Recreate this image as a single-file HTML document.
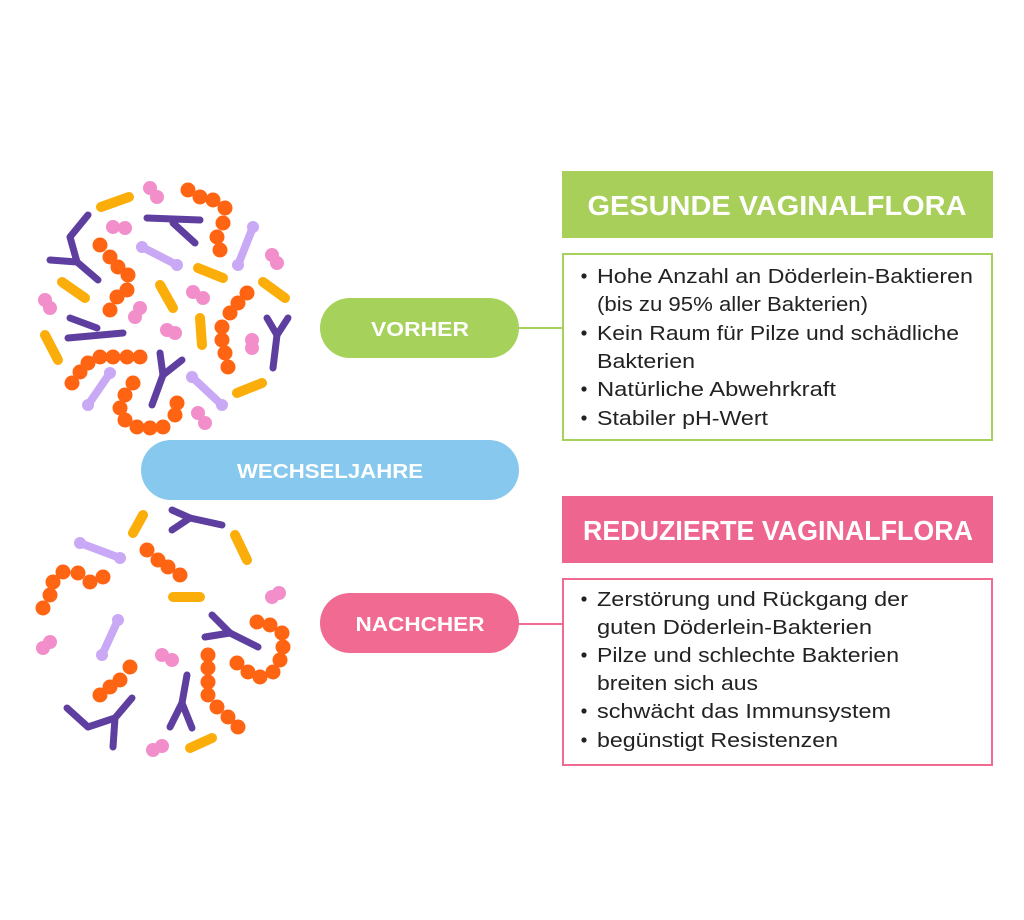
<!DOCTYPE html>
<html><head><meta charset="utf-8"><style>html,body{margin:0;padding:0;background:#fff}svg{display:block}</style></head>
<body>
<svg width="1024" height="920" viewBox="0 0 1024 920" xmlns="http://www.w3.org/2000/svg" font-family="Liberation Sans, sans-serif">
<rect width="1024" height="920" fill="#fff"/>
<line x1="515" y1="328" x2="563" y2="328" stroke="#A6D25C" stroke-width="2"/>
<line x1="515" y1="624" x2="563" y2="624" stroke="#F06A92" stroke-width="2"/>
<rect x="320" y="298" width="199" height="60" rx="30" fill="#A6D25C"/>
<text x="420" y="336" font-size="20" font-weight="bold" fill="#fff" text-anchor="middle" textLength="98" lengthAdjust="spacingAndGlyphs">VORHER</text>
<rect x="141" y="440" width="378" height="60" rx="30" fill="#87C8EE"/>
<text x="330" y="478" font-size="20" font-weight="bold" fill="#fff" text-anchor="middle" textLength="186" lengthAdjust="spacingAndGlyphs">WECHSELJAHRE</text>
<rect x="320" y="593" width="199" height="60" rx="30" fill="#F06A92"/>
<text x="420" y="631" font-size="20" font-weight="bold" fill="#fff" text-anchor="middle" textLength="129" lengthAdjust="spacingAndGlyphs">NACHCHER</text>
<rect x="562" y="171" width="431" height="67" fill="#A8CF5A"/>
<text x="777" y="215" font-size="28" font-weight="bold" fill="#fff" text-anchor="middle" textLength="379" lengthAdjust="spacingAndGlyphs">GESUNDE VAGINALFLORA</text>
<rect x="562" y="496" width="431" height="67" fill="#EE6690"/>
<text x="778" y="540" font-size="28" font-weight="bold" fill="#fff" text-anchor="middle" textLength="390" lengthAdjust="spacingAndGlyphs">REDUZIERTE VAGINALFLORA</text>
<rect x="563" y="254" width="429" height="186" fill="none" stroke="#A6D25C" stroke-width="2"/>
<rect x="563" y="579" width="429" height="186" fill="none" stroke="#F06A92" stroke-width="2"/>
<g font-size="20" fill="#222">
<text x="597" y="283" textLength="376" lengthAdjust="spacingAndGlyphs">Hohe Anzahl an Döderlein-Baktieren</text>
<text x="597" y="311" textLength="271" lengthAdjust="spacingAndGlyphs">(bis zu 95% aller Bakterien)</text>
<text x="597" y="340" textLength="362" lengthAdjust="spacingAndGlyphs">Kein Raum für Pilze und schädliche</text>
<text x="597" y="368" textLength="98" lengthAdjust="spacingAndGlyphs">Bakterien</text>
<text x="597" y="396" textLength="239" lengthAdjust="spacingAndGlyphs">Natürliche Abwehrkraft</text>
<text x="597" y="425" textLength="171" lengthAdjust="spacingAndGlyphs">Stabiler pH-Wert</text>
<text x="597" y="606" textLength="311" lengthAdjust="spacingAndGlyphs">Zerstörung und Rückgang der</text>
<text x="597" y="634" textLength="275" lengthAdjust="spacingAndGlyphs">guten Döderlein-Bakterien</text>
<text x="597" y="662" textLength="302" lengthAdjust="spacingAndGlyphs">Pilze und schlechte Bakterien</text>
<text x="597" y="690" textLength="161" lengthAdjust="spacingAndGlyphs">breiten sich aus</text>
<text x="597" y="718" textLength="294" lengthAdjust="spacingAndGlyphs">schwächt das Immunsystem</text>
<text x="597" y="747" textLength="241" lengthAdjust="spacingAndGlyphs">begünstigt Resistenzen</text>
</g>
<g fill="#222">
<circle cx="584" cy="276" r="2.6"/><circle cx="584" cy="333" r="2.6"/><circle cx="584" cy="389" r="2.6"/><circle cx="584" cy="418" r="2.6"/>
<circle cx="584" cy="599" r="2.6"/><circle cx="584" cy="655" r="2.6"/><circle cx="584" cy="711" r="2.6"/><circle cx="584" cy="740" r="2.6"/>
</g>
<g stroke="#FBAE0A" stroke-width="10" stroke-linecap="round">
<line x1="101" y1="207" x2="129" y2="197"/><line x1="62" y1="282" x2="85" y2="298"/><line x1="45" y1="335" x2="58" y2="360"/>
<line x1="160" y1="285" x2="173" y2="308"/><line x1="198" y1="268" x2="223" y2="278"/><line x1="200" y1="318" x2="202" y2="345"/>
<line x1="263" y1="282" x2="285" y2="298"/><line x1="237" y1="393" x2="262" y2="383"/>
<line x1="143" y1="515" x2="133" y2="533"/><line x1="235" y1="535" x2="247" y2="560"/><line x1="173" y1="597" x2="200" y2="597"/><line x1="190" y1="748" x2="212" y2="738"/>
</g>
<g stroke="#5E3FA0" stroke-width="7" stroke-linecap="round" stroke-linejoin="round" fill="none">
<polyline points="88,215 70,237 77,262"/><line x1="50" y1="260" x2="77" y2="262"/><line x1="77" y1="262" x2="98" y2="280"/>
<line x1="147" y1="218" x2="200" y2="220"/><line x1="173" y1="223" x2="195" y2="243"/>
<line x1="70" y1="318" x2="97" y2="328"/><line x1="68" y1="338" x2="123" y2="333"/>
<line x1="160" y1="353" x2="163" y2="375"/><line x1="182" y1="360" x2="163" y2="375"/><line x1="163" y1="375" x2="152" y2="405"/>
<line x1="267" y1="318" x2="277" y2="335"/><line x1="288" y1="318" x2="277" y2="335"/><line x1="277" y1="335" x2="273" y2="368"/>
<line x1="172" y1="510" x2="190" y2="518"/><line x1="172" y1="530" x2="190" y2="518"/><line x1="190" y1="518" x2="222" y2="525"/>
<line x1="212" y1="615" x2="230" y2="633"/><line x1="205" y1="637" x2="230" y2="633"/><line x1="230" y1="633" x2="258" y2="647"/>
<polyline points="67,708 88,727 115,718 132,698"/><line x1="115" y1="718" x2="113" y2="747"/>
<line x1="187" y1="675" x2="182" y2="703"/><line x1="182" y1="703" x2="170" y2="727"/><line x1="182" y1="703" x2="192" y2="728"/>
</g>
<g stroke="#C9A8F5" stroke-width="8" stroke-linecap="round">
<line x1="142" y1="247" x2="177" y2="265"/><line x1="253" y1="227" x2="238" y2="265"/><line x1="88" y1="405" x2="110" y2="373"/><line x1="192" y1="377" x2="222" y2="405"/>
<line x1="80" y1="543" x2="120" y2="558"/><line x1="118" y1="620" x2="102" y2="655"/>
</g>
<g fill="#C9A8F5">
<circle cx="142" cy="247" r="6"/><circle cx="177" cy="265" r="6"/><circle cx="253" cy="227" r="6"/><circle cx="238" cy="265" r="6"/>
<circle cx="88" cy="405" r="6"/><circle cx="110" cy="373" r="6"/><circle cx="192" cy="377" r="6"/><circle cx="222" cy="405" r="6"/>
<circle cx="80" cy="543" r="6"/><circle cx="120" cy="558" r="6"/><circle cx="118" cy="620" r="6"/><circle cx="102" cy="655" r="6"/>
</g>
<g fill="#F28FCB">
<circle cx="150" cy="188" r="7"/><circle cx="157" cy="197" r="7"/><circle cx="113" cy="227" r="7"/><circle cx="125" cy="228" r="7"/>
<circle cx="272" cy="255" r="7"/><circle cx="277" cy="263" r="7"/><circle cx="45" cy="300" r="7"/><circle cx="50" cy="308" r="7"/>
<circle cx="193" cy="292" r="7"/><circle cx="203" cy="298" r="7"/><circle cx="140" cy="308" r="7"/><circle cx="135" cy="317" r="7"/>
<circle cx="167" cy="330" r="7"/><circle cx="175" cy="333" r="7"/><circle cx="252" cy="340" r="7"/><circle cx="252" cy="348" r="7"/>
<circle cx="198" cy="413" r="7"/><circle cx="205" cy="423" r="7"/>
<circle cx="272" cy="597" r="7"/><circle cx="279" cy="593" r="7"/><circle cx="43" cy="648" r="7"/><circle cx="50" cy="642" r="7"/>
<circle cx="162" cy="655" r="7"/><circle cx="172" cy="660" r="7"/><circle cx="153" cy="750" r="7"/><circle cx="162" cy="746" r="7"/>
</g>
<g fill="#FF6412">
<circle cx="188" cy="190" r="7.5"/><circle cx="200" cy="197" r="7.5"/><circle cx="213" cy="200" r="7.5"/><circle cx="225" cy="208" r="7.5"/><circle cx="223" cy="223" r="7.5"/><circle cx="217" cy="237" r="7.5"/><circle cx="220" cy="250" r="7.5"/>
<circle cx="100" cy="245" r="7.5"/><circle cx="110" cy="257" r="7.5"/><circle cx="118" cy="267" r="7.5"/><circle cx="128" cy="275" r="7.5"/><circle cx="127" cy="290" r="7.5"/><circle cx="117" cy="297" r="7.5"/><circle cx="110" cy="310" r="7.5"/>
<circle cx="72" cy="383" r="7.5"/><circle cx="80" cy="372" r="7.5"/><circle cx="88" cy="363" r="7.5"/><circle cx="100" cy="357" r="7.5"/><circle cx="113" cy="357" r="7.5"/><circle cx="127" cy="357" r="7.5"/><circle cx="140" cy="357" r="7.5"/>
<circle cx="247" cy="293" r="7.5"/><circle cx="238" cy="303" r="7.5"/><circle cx="230" cy="313" r="7.5"/><circle cx="222" cy="327" r="7.5"/><circle cx="222" cy="340" r="7.5"/><circle cx="225" cy="353" r="7.5"/><circle cx="228" cy="367" r="7.5"/>
<circle cx="133" cy="383" r="7.5"/><circle cx="125" cy="395" r="7.5"/><circle cx="120" cy="408" r="7.5"/><circle cx="125" cy="420" r="7.5"/><circle cx="137" cy="427" r="7.5"/><circle cx="150" cy="428" r="7.5"/><circle cx="163" cy="427" r="7.5"/><circle cx="175" cy="415" r="7.5"/><circle cx="177" cy="403" r="7.5"/>
<circle cx="147" cy="550" r="7.5"/><circle cx="158" cy="560" r="7.5"/><circle cx="168" cy="567" r="7.5"/><circle cx="180" cy="575" r="7.5"/>
<circle cx="43" cy="608" r="7.5"/><circle cx="50" cy="595" r="7.5"/><circle cx="53" cy="582" r="7.5"/><circle cx="63" cy="572" r="7.5"/><circle cx="78" cy="573" r="7.5"/><circle cx="90" cy="582" r="7.5"/><circle cx="103" cy="577" r="7.5"/>
<circle cx="130" cy="667" r="7.5"/><circle cx="120" cy="680" r="7.5"/><circle cx="110" cy="687" r="7.5"/><circle cx="100" cy="695" r="7.5"/>
<circle cx="257" cy="622" r="7.5"/><circle cx="270" cy="625" r="7.5"/><circle cx="282" cy="633" r="7.5"/><circle cx="283" cy="647" r="7.5"/><circle cx="280" cy="660" r="7.5"/><circle cx="273" cy="672" r="7.5"/><circle cx="260" cy="677" r="7.5"/><circle cx="248" cy="672" r="7.5"/><circle cx="237" cy="663" r="7.5"/>
<circle cx="208" cy="655" r="7.5"/><circle cx="208" cy="668" r="7.5"/><circle cx="208" cy="682" r="7.5"/><circle cx="208" cy="695" r="7.5"/><circle cx="217" cy="707" r="7.5"/><circle cx="228" cy="717" r="7.5"/><circle cx="238" cy="727" r="7.5"/>
</g>
</svg>
</body></html>
